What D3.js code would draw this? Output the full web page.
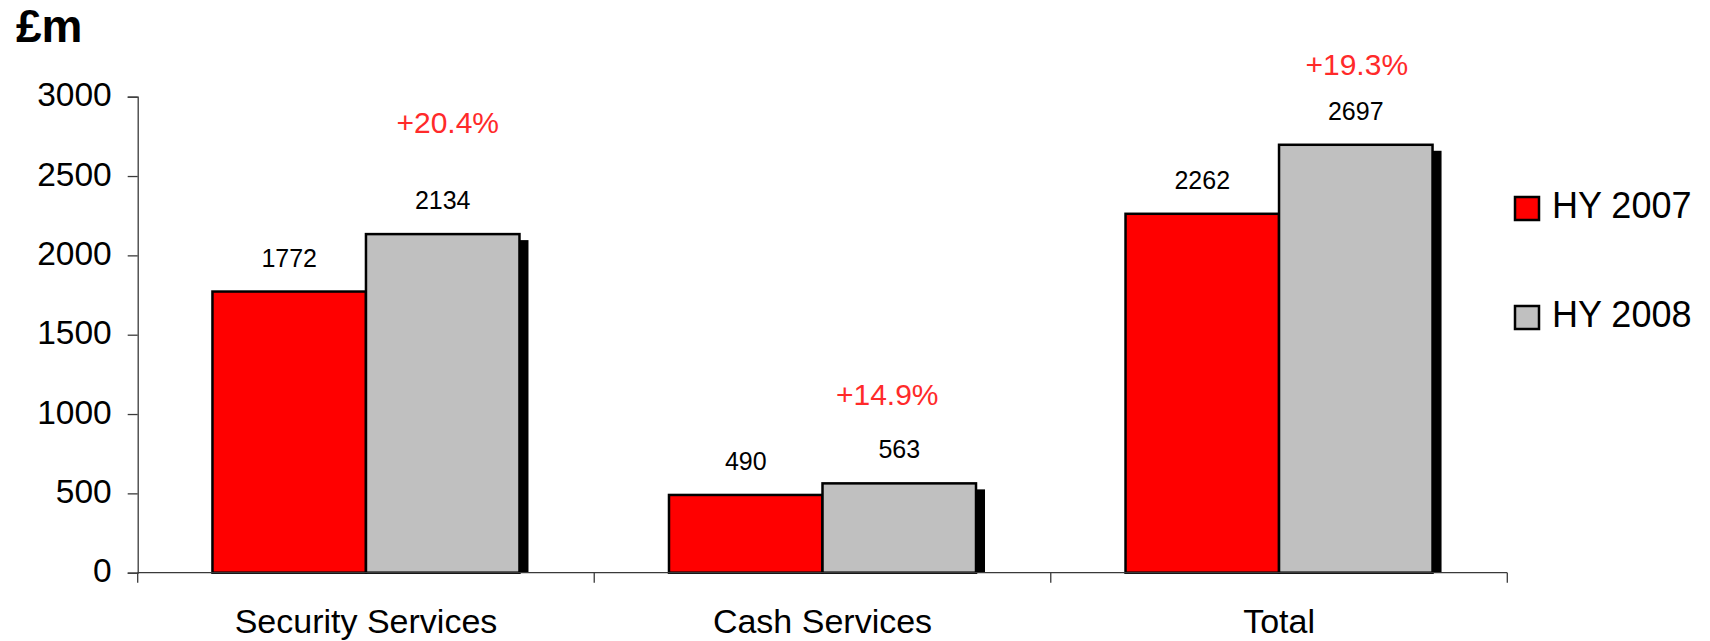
<!DOCTYPE html>
<html>
<head>
<meta charset="utf-8">
<script src="https://cdn.jsdelivr.net/npm/d3@7"></script>
<style>
  html, body { margin: 0; padding: 0; background: #fff; }
  svg { display: block; font-family: "Liberation Sans", Arial, sans-serif; }
</style>
</head>
<body>
<svg id="chart" width="1710" height="641"></svg>
<script>
// ---- Data ----
const categories = ["Security Services", "Cash Services", "Total"];
const seriesNames = ["HY 2007", "HY 2008"];
const hy2007 = [1772, 490, 2262];
const hy2008 = [2134, 563, 2697];
const growthLabels = ["+20.4%", "+14.9%", "+19.3%"];
const growthAnchor = [2770, 1057, 3137];   // data-space height of growth annotations
const yTicks = [0, 500, 1000, 1500, 2000, 2500, 3000];
const unitLabel = "£m";

const colors = ["#FF0000", "#C0C0C0"];
const seriesValues = [hy2007, hy2008];

// ---- Layout ----
const svg = d3.select("#chart");
const plotLeft = 137.7, plotRight = 1507.3, plotTop = 96.7, plotBottom = 572.7;

const x = d3.scaleBand().domain(categories).range([plotLeft, plotRight]).paddingInner(0).paddingOuter(0);
const xs = d3.scaleBand().domain(seriesNames).range([0, x.bandwidth()]).paddingInner(0).paddingOuter(0.487);
const y = d3.scaleLinear().domain([0, 3000]).range([plotBottom, plotTop]);

const axisColor = "#3a3a3a";

// Y axis
const yAxis = svg.append("g")
  .attr("transform", `translate(${plotLeft},0)`)
  .call(d3.axisLeft(y).tickValues(yTicks).tickSize(10).tickPadding(16).tickFormat(d3.format("d")));
yAxis.select(".domain").attr("stroke", axisColor).attr("stroke-width", 1.3);
yAxis.selectAll(".tick line").attr("stroke", axisColor).attr("stroke-width", 1.3);
yAxis.selectAll(".tick text").attr("fill", "#000").style("font-size", "33.5px").attr("dy", "0.27em")
  .style("font-family", "'Liberation Sans', Arial, sans-serif");

// Shadows (drawn first)
const groups = svg.append("g");
seriesValues.forEach((vals, si) => {
  groups.selectAll(null).data(categories).enter().append("rect")
    .attr("x", (c) => x(c) + xs(seriesNames[si]) + 9)
    .attr("y", (c, i) => y(vals[i]) + 6)
    .attr("width", xs.bandwidth())
    .attr("height", (c, i) => y(0) - y(vals[i]) - 6)
    .attr("fill", "#000");
});

// Bars
seriesValues.forEach((vals, si) => {
  groups.selectAll(null).data(categories).enter().append("rect")
    .attr("x", (c) => x(c) + xs(seriesNames[si]))
    .attr("y", (c, i) => y(vals[i]))
    .attr("width", xs.bandwidth())
    .attr("height", (c, i) => y(0) - y(vals[i]))
    .attr("fill", colors[si])
    .attr("stroke", "#000")
    .attr("stroke-width", 2.5);
});

// X axis
const xAxis = svg.append("g")
  .attr("transform", `translate(0,${plotBottom})`)
  .call(d3.axisBottom(x).tickSize(0).tickPadding(36.5));
xAxis.select(".domain").remove();
xAxis.selectAll(".tick text").attr("fill", "#000").style("font-size", "34px")
  .style("font-family", "'Liberation Sans', Arial, sans-serif");
xAxis.append("line").attr("x1", plotLeft).attr("x2", plotRight).attr("y1", 0).attr("y2", 0)
  .attr("stroke", axisColor).attr("stroke-width", 1.3);
const boundaries = categories.map(c => x(c)).concat([x(categories[categories.length - 1]) + x.bandwidth()]);
xAxis.selectAll(".bound").data(boundaries).enter().append("line")
  .attr("x1", d => d).attr("x2", d => d).attr("y1", 0).attr("y2", 10)
  .attr("stroke", axisColor).attr("stroke-width", 1.3);

// Value labels
seriesValues.forEach((vals, si) => {
  svg.selectAll(null).data(categories).enter().append("text")
    .attr("x", (c) => x(c) + xs(seriesNames[si]) + xs.bandwidth() / 2)
    .attr("y", (c, i) => y(vals[i]) - 25)
    .attr("text-anchor", "middle")
    .style("font-size", "25px")
    .attr("fill", "#000")
    .text((c, i) => vals[i]);
});

// Growth labels
const growthDx = [5, -12, 1];
svg.selectAll(null).data(categories).enter().append("text")
  .attr("x", (c, i) => x(c) + xs(seriesNames[1]) + xs.bandwidth() / 2 + growthDx[i])
  .attr("y", (c, i) => y(growthAnchor[i]))
  .attr("text-anchor", "middle")
  .style("font-size", "30px")
  .attr("fill", "#FF2A2A")
  .text((c, i) => growthLabels[i]);

// Unit label
svg.append("text").attr("x", 16).attr("y", 42)
  .style("font-size", "46px").style("font-weight", "bold")
  .attr("fill", "#000").text(unitLabel);

// Legend
const legend = svg.append("g").attr("transform", "translate(1515,197)");
seriesNames.forEach((name, i) => {
  const g = legend.append("g").attr("transform", `translate(0,${i * 109})`);
  g.append("rect").attr("x", 0).attr("y", 0).attr("width", 24).attr("height", 23)
    .attr("fill", colors[i]).attr("stroke", "#000").attr("stroke-width", 2.5);
  g.append("text").attr("x", 37).attr("y", 21)
    .style("font-size", "36px").attr("fill", "#000").text(name);
});
</script>
</body>
</html>
